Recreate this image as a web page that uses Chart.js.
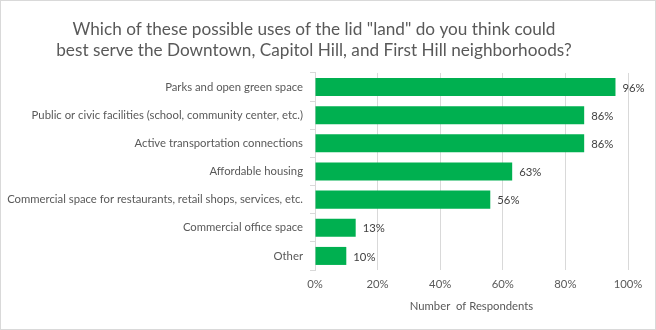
<!DOCTYPE html>
<html>
<head>
<meta charset="utf-8">
<script src="https://cdn.jsdelivr.net/npm/chart.js@4"></script>
<style>
  html, body { margin: 0; padding: 0; background: #fff; }
  #wrap { width: 656px; height: 330px; }
</style>
</head>
<body>
<div id="wrap"><canvas id="landChart"></canvas></div>
<script>
const categories = [
  "Parks and open green space",
  "Public or civic facilities (school, community center, etc.)",
  "Active transportation connections",
  "Affordable housing",
  "Commercial space for restaurants, retail shops, services, etc.",
  "Commercial office space",
  "Other"
];
const percentages = [96, 86, 86, 63, 56, 13, 10];
const xTicks = [0, 20, 40, 60, 80, 100];
const titleLines = [
  'Which of these possible uses of the lid "land" do you think could',
  "best serve the Downtown, Capitol Hill, and First Hill neighborhoods?"
];

const FONT = "Lato, 'Open Sans', sans-serif";
const GREY = "#595959";

// white background + thin frame like the Excel chart border
const frame = {
  id: "frame",
  beforeDraw(chart) {
    const c = chart.ctx;
    c.save();
    c.fillStyle = "#fff";
    c.fillRect(0, 0, chart.width, chart.height);
    c.strokeStyle = "#d9d9d9";
    c.lineWidth = 1;
    c.strokeRect(0.5, 0.5, chart.width - 1, chart.height - 1);
    c.restore();
  }
};

// value labels to the right of each bar
const barLabels = {
  id: "barLabels",
  afterDatasetsDraw(chart) {
    const c = chart.ctx;
    const meta = chart.getDatasetMeta(0);
    c.save();
    c.font = "11.3px " + FONT;
    c.fillStyle = "#404040";
    c.textAlign = "left";
    c.textBaseline = "middle";
    meta.data.forEach((bar, i) => {
      c.fillText(percentages[i] + "%", bar.x + 7, bar.y + 1);
    });
    c.restore();
  }
};

new Chart(document.getElementById("landChart"), {
  type: "bar",
  data: {
    labels: categories,
    datasets: [{
      data: percentages,
      backgroundColor: "#00b050",
      barPercentage: 0.64,
      categoryPercentage: 1
    }]
  },
  plugins: [frame, barLabels],
  options: {
    indexAxis: "y",
    responsive: true,
    maintainAspectRatio: false,
    animation: false,
    layout: { padding: { left: 0, right: 28, top: 0, bottom: 0 } },
    plugins: {
      legend: { display: false },
      tooltip: { enabled: false },
      title: {
        display: true,
        text: titleLines,
        color: GREY,
        font: { family: FONT, size: 17.2, weight: "normal", lineHeight: 1.22 },
        padding: { top: 19, bottom: 12 }
      }
    },
    scales: {
      x: {
        min: 0,
        max: 100,
        afterBuildTicks(scale) {
          scale.ticks = xTicks.map(v => ({ value: v }));
        },
        afterFit(scale) { scale.height = 60; },
        grid: { color: "#d9d9d9", drawTicks: false },
        border: { display: false },
        ticks: {
          color: GREY,
          padding: 8,
          font: { family: FONT, size: 11.3 },
          callback: v => v + "%"
        },
        title: {
          display: true,
          text: "Number  of Respondents",
          color: GREY,
          font: { family: FONT, size: 11.3 },
          padding: { top: 0, bottom: 17 }
        }
      },
      y: {
        afterFit(scale) { scale.width = 315; },
        grid: {
          offset: true,
          drawOnChartArea: false,
          drawTicks: true,
          tickLength: 5,
          color: "#d9d9d9"
        },
        border: { display: true, color: "#d9d9d9" },
        ticks: {
          color: GREY,
          padding: 7,
          font: { family: FONT, size: 11.3 }
        }
      }
    }
  }
});
</script>
</body>
</html>
